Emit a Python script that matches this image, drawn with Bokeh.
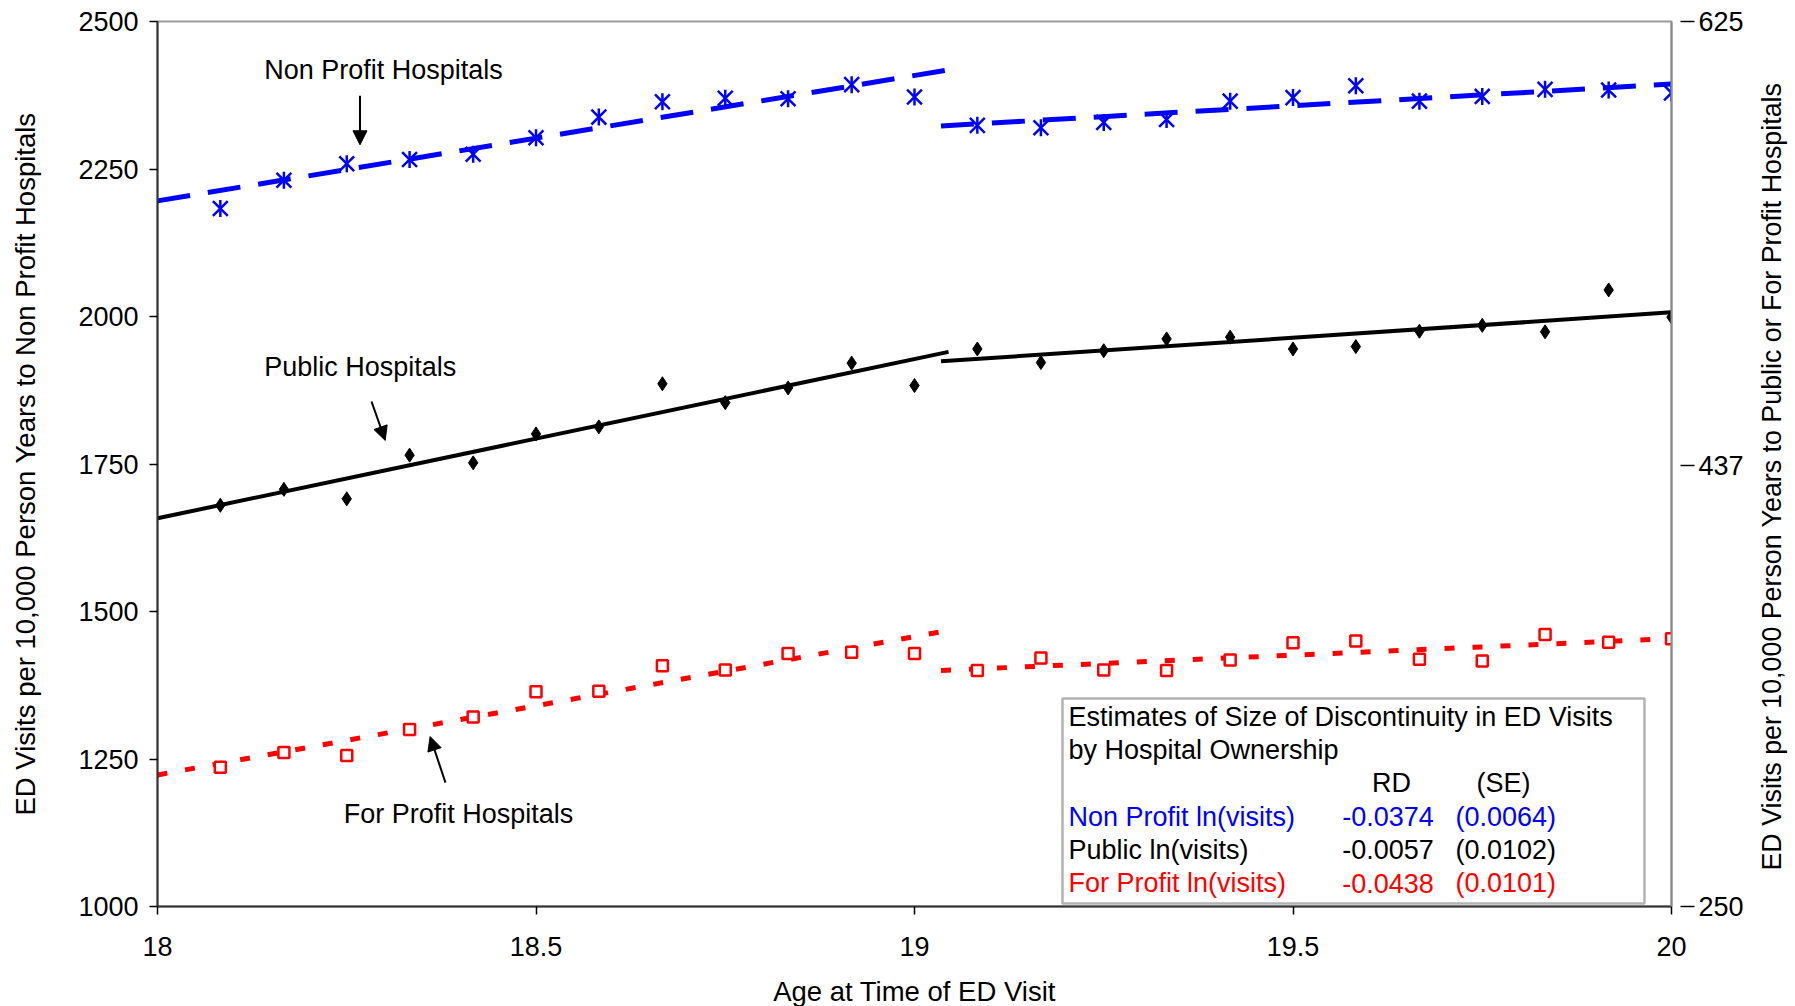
import math
from bokeh.plotting import figure
from bokeh.models import (Range1d, LinearAxis, FixedTicker, NumeralTickFormatter,
                          Label, Arrow, NormalHead, BoxAnnotation, ColumnDataSource)
from bokeh.embed import file_html
from bokeh.resources import INLINE

# ---------------- data ----------------
age = [18.083, 18.167, 18.25, 18.333, 18.417, 18.5, 18.583, 18.667, 18.75, 18.833, 18.917, 19.0,
       19.083, 19.167, 19.25, 19.333, 19.417, 19.5, 19.583, 19.667, 19.75, 19.833, 19.917, 20.0]
nonprofit = [2183, 2231, 2259, 2266, 2275, 2303, 2338, 2364, 2370, 2369, 2393, 2372,
             2324, 2320, 2329, 2334, 2365, 2371, 2391, 2365, 2373, 2385, 2384, 2379]
public = [1680, 1707, 1691, 1765, 1752, 1801, 1813, 1886, 1854, 1879, 1921, 1883,
          1945, 1922, 1942, 1962, 1965, 1945, 1949, 1975, 1985, 1974, 2045, 1999]
forprofit = [1236, 1261, 1256, 1300, 1321, 1364, 1365, 1408, 1401, 1429, 1431, 1429,
             1400, 1421, 1401, 1400, 1418, 1447, 1450, 1419, 1416, 1461, 1448, 1454]

fit_age_below = [18.0, 19.045]
fit_age_above = [19.035, 20.0]
nonprofit_fit_below = [2196, 2418]
nonprofit_fit_above = [2323, 2394]
public_fit_below = [1658, 1940]
public_fit_above = [1924, 2007]
forprofit_fit_below = [1223, 1468]
forprofit_fit_above = [1400, 1454]

x_ticks = [18, 18.5, 19, 19.5, 20]
left_ticks = [1000, 1250, 1500, 1750, 2000, 2250, 2500]
right_ticks = [250, 437, 625]

table_title = ["Estimates of Size of Discontinuity in ED Visits", "by Hospital Ownership"]
table_rows = ["Non Profit ln(visits)", "Public ln(visits)", "For Profit ln(visits)"]
table_rd = ["-0.0374", "-0.0057", "-0.0438"]
table_se = ["(0.0064)", "(0.0102)", "(0.0101)"]
row_colors = ["#0000ff", "#000000", "#ff0000"]

right_title = "ED Visits per 10,000 Person Years to Public or For Profit Hospitals"
right_title_start = 1061  # left-axis value where the rotated right title begins

FONT = "Liberation Sans"
BLUE = "#0000ff"
RED = "#ff0000"

# ---------------- figure ----------------
p = figure(frame_width=1514, frame_height=885,
           x_range=Range1d(18, 20), y_range=Range1d(1000, 2500),
           output_backend="svg", toolbar_location=None,
           min_border_left=157, min_border_right=124, min_border_top=21, min_border_bottom=100,
           background_fill_color="white", border_fill_color="white")
p.xgrid.visible = False
p.ygrid.visible = False
p.outline_line_color = "#9a9a9a"
p.outline_line_width = 2

# bottom axis
xa = p.xaxis[0]
xa.ticker = FixedTicker(ticks=x_ticks)
xa.formatter = NumeralTickFormatter(format="0.[0]")
xa.axis_label = "Age at Time of ED Visit"
xa.axis_label_text_font = FONT
xa.axis_label_text_font_size = "27.5px"
xa.axis_label_text_font_style = "normal"
xa.axis_label_text_color = "black"
xa.axis_label_standoff = 17
xa.major_label_text_font = FONT
xa.major_label_text_font_size = "27px"
xa.major_label_text_color = "black"
xa.major_label_standoff = 22
xa.major_tick_in = 0
xa.major_tick_out = 8
xa.minor_tick_in = 0
xa.minor_tick_out = 0
xa.axis_line_color = "#333333"
xa.axis_line_width = 2
xa.major_tick_line_color = "black"
xa.major_tick_line_width = 1.5

# left axis
ya = p.yaxis[0]
ya.ticker = FixedTicker(ticks=left_ticks)
ya.axis_label = "ED Visits per 10,000 Person Years to Non Profit Hospitals"
ya.axis_label_text_font = FONT
ya.axis_label_text_font_size = "27.5px"
ya.axis_label_text_font_style = "normal"
ya.axis_label_text_color = "black"
ya.axis_label_standoff = 34
ya.major_label_text_font = FONT
ya.major_label_text_font_size = "27px"
ya.major_label_text_color = "black"
ya.major_label_standoff = 11
ya.major_tick_in = 0
ya.major_tick_out = 8
ya.minor_tick_in = 0
ya.minor_tick_out = 0
ya.axis_line_color = "#333333"
ya.axis_line_width = 2
ya.major_tick_line_color = "black"
ya.major_tick_line_width = 1.5

# right axis (ticks and labels)
p.extra_y_ranges = {"right": Range1d(250, 625)}
ra = LinearAxis(y_range_name="right", ticker=FixedTicker(ticks=right_ticks),
                formatter=NumeralTickFormatter(format="0"))
ra.major_label_text_font = FONT
ra.major_label_text_font_size = "27px"
ra.major_label_text_color = "black"
ra.major_label_standoff = 4
ra.major_tick_in = -9
ra.major_tick_out = 23
ra.minor_tick_in = 0
ra.minor_tick_out = 0
ra.axis_line_color = "#8c8c8c"
ra.axis_line_width = 2
ra.major_tick_line_color = "black"
ra.major_tick_line_width = 1.5
p.add_layout(ra, "right")

# right axis title, reading bottom-to-top: drawn as the single rotated label of a bare axis
rb = LinearAxis(ticker=FixedTicker(ticks=[right_title_start]))
rb.major_label_overrides = {right_title_start: right_title}
rb.major_label_orientation = math.pi / 2
rb.major_label_text_font = FONT
rb.major_label_text_font_size = "26.8px"
rb.major_label_text_color = "black"
rb.major_label_standoff = 26
rb.major_tick_in = 0
rb.major_tick_out = 0
rb.major_tick_line_color = None
rb.minor_tick_line_color = None
rb.axis_line_color = None
p.add_layout(rb, "right")

# ---------------- fitted lines ----------------
p.line(fit_age_below, nonprofit_fit_below, line_color=BLUE, line_width=5, line_dash="33 18")
p.line(fit_age_above, nonprofit_fit_above, line_color=BLUE, line_width=5, line_dash="33 18")
p.line(fit_age_below, public_fit_below, line_color="black", line_width=4)
p.line(fit_age_above, public_fit_above, line_color="black", line_width=4)
p.line(fit_age_below, forprofit_fit_below, line_color=RED, line_width=5, line_dash="10 18")
p.line(fit_age_above, forprofit_fit_above, line_color=RED, line_width=5, line_dash="10 18")

# ---------------- points ----------------
src = ColumnDataSource(dict(age=age, nonprofit=nonprofit, public=public, forprofit=forprofit))
p.scatter("age", "nonprofit", source=src, marker="x", size=21, line_color=BLUE, line_width=2.5)
p.scatter("age", "nonprofit", source=src, marker="dash", angle=math.pi / 2, size=17,
          line_color=BLUE, line_width=2.5)
p.scatter("age", "public", source=src, marker="diamond", size=14, fill_color="black",
          line_color="black", line_width=1)
p.scatter("age", "forprofit", source=src, marker="square", size=11, fill_color="white",
          line_color=RED, line_width=2.5)

# ---------------- annotations ----------------
def lab(x, y, text, color="black", align="left", size="27px"):
    p.add_layout(Label(x=x, y=y, text=text, text_font=FONT, text_font_size=size,
                       text_color=color, text_align=align, text_baseline="middle"))

lab(18.141, 2417, "Non Profit Hospitals")
lab(18.141, 1915, "Public  Hospitals")
lab(18.246, 1156, "For Profit Hospitals")

head = dict(size=14, fill_color="black", line_color="black")
p.add_layout(Arrow(end=NormalHead(**head), x_start=18.2675, y_start=2374, x_end=18.2675, y_end=2291,
                   line_width=2, line_color="black"))
p.add_layout(Arrow(end=NormalHead(**head), x_start=18.2827, y_start=1856, x_end=18.3008, y_end=1790,
                   line_width=2, line_color="black"))
p.add_layout(Arrow(end=NormalHead(**head), x_start=18.3804, y_start=1210, x_end=18.3601, y_end=1288,
                   line_width=2, line_color="black"))

# estimates box
p.add_layout(BoxAnnotation(left=19.1955, right=19.9643, top=1352.5, bottom=1005,
                           fill_color="white", fill_alpha=1.0, line_color="black", line_width=2.5))
row_y = [1321.0, 1264.7, 1208.5, 1152.2, 1095.9, 1039.7]
lab(19.2034, row_y[0], table_title[0])
lab(19.2034, row_y[1], table_title[1])
lab(19.630, row_y[2], "RD", align="center")
lab(19.778, row_y[2], "(SE)", align="center")
for i in range(3):
    lab(19.2034, row_y[3 + i], table_rows[i], color=row_colors[i])
    lab(19.565, row_y[3 + i], table_rd[i], color=row_colors[i])
    lab(19.7147, row_y[3 + i], table_se[i], color=row_colors[i])

open("out.html", "w").write(file_html(p, INLINE))
